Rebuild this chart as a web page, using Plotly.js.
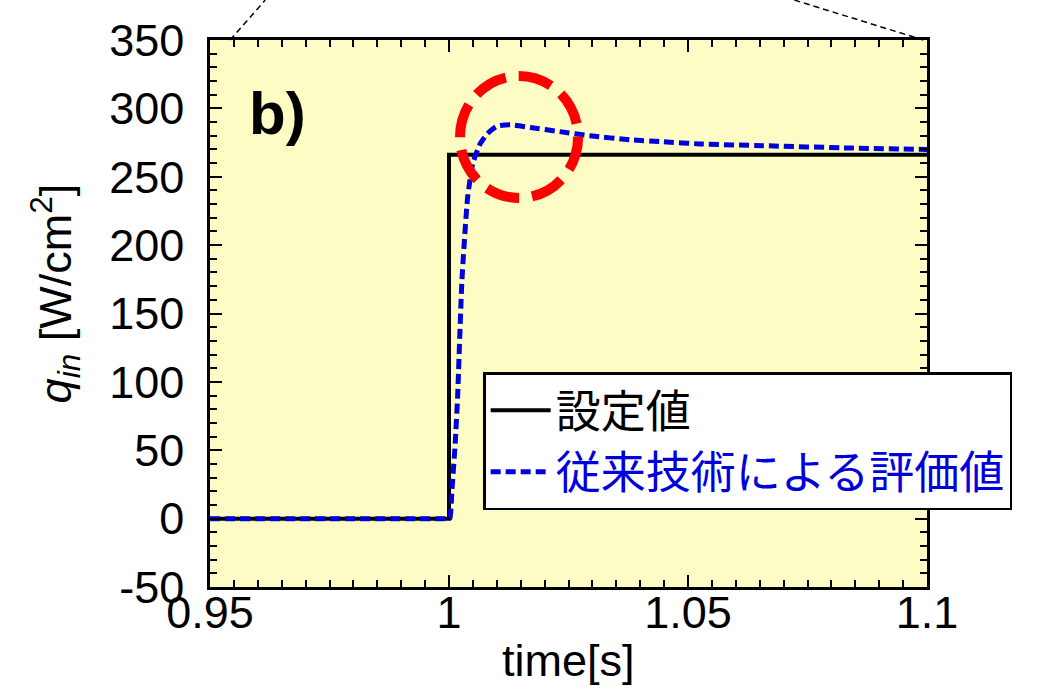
<!DOCTYPE html>
<html><head><meta charset="utf-8">
<script src="https://cdn.plot.ly/plotly-3.0.1.min.js"></script>
<style>body{margin:0;padding:0;background:#fff}#chart{width:1041px;height:686px}</style>
</head><body><div id="chart"></div>
<script>
// Data
const setTime = [0.95, 1.0, 1.0, 1.1];
const setValue = [0, 0, 266, 266];
const evalTime = [0.95, 1.0, 1.0002, 1.0006, 1.0013, 1.0018, 1.0027, 1.0039, 1.0050, 1.0065, 1.0079, 1.0100, 1.0128, 1.0170, 1.0232, 1.0295, 1.0379, 1.0448, 1.0525, 1.0657, 1.0839, 1.1];
const evalValue = [0, 0, 0, 20, 55, 89, 174, 235, 260, 274, 281, 287, 288, 286, 283, 280, 277, 275.6, 274, 272.7, 271, 270];
const seriesNames = ['設定値', '従来技術による評価値'];
const yTickVals = [-50, 0, 50, 100, 150, 200, 250, 300, 350];
const yTickText = ['-50', '0', '50', '100', '150', '200', '250', '300', '350'];
const xTickVals = [0.95, 1.0, 1.05, 1.1];
const xTickText = ['0.95', '1', '1.05', '1.1'];
const circleX = [1.0023, 1.027];
const circleY = [234.5, 323.7];
const yTitle = '<i>q</i><sub><i>in</i></sub> [W/cm<sup>2</sup>]';
const xTitle = 'time[s]';
const panelLabel = 'b)';

const font = 'Liberation Sans, Arial, sans-serif';
const traces = [
  {x: setTime, y: setValue, mode: 'lines', name: seriesNames[0],
   line: {color: '#000000', width: 4}},
  {x: evalTime, y: evalValue, mode: 'lines', name: '<span style="color:#0000dd">' + seriesNames[1] + '</span>',
   line: {color: '#0000dd', width: 5, dash: '10px,5px', shape: 'spline', smoothing: 0.5}}
];
const axisCommon = {
  showline: true, linecolor: '#000', linewidth: 2.5, mirror: 'ticks',
  ticks: 'inside', ticklen: 12, tickwidth: 2, tickcolor: '#000',
  showgrid: false, zeroline: false,
  tickfont: {family: font, size: 45, color: '#000'},
  tickmode: 'array'
};
const layout = {
  width: 1041, height: 686,
  margin: {l: 210, r: 114, t: 40, b: 99},
  paper_bgcolor: '#ffffff', plot_bgcolor: '#fcfcc4',
  showlegend: true,
  legend: {x: 0.381, y: 0.393, xanchor: 'left', yanchor: 'top',
    bgcolor: '#ffffff', bordercolor: '#000', borderwidth: 2.5,
    font: {family: 'Noto Sans CJK JP, sans-serif', size: 45, color: '#000'},
    itemwidth: 60, tracegroupgap: 0},
  xaxis: Object.assign({}, axisCommon, {
    range: [0.95, 1.1], tickvals: xTickVals, ticktext: xTickText, ticklabelstandoff: -16,
    minor: {dtick: 0.005, ticks: 'inside', ticklen: 7, tickwidth: 2, tickcolor: '#000', showgrid: false}
  }),
  yaxis: Object.assign({}, axisCommon, {
    range: [-50, 350], tickvals: yTickVals, ticktext: yTickText, ticklabelstandoff: 14,
    minor: {dtick: 10, ticks: 'inside', ticklen: 7, tickwidth: 2, tickcolor: '#000', showgrid: false}
  }),
  shapes: [
    {type: 'circle', xref: 'x', yref: 'y', x0: circleX[0], x1: circleX[1], y0: circleY[0], y1: circleY[1],
     line: {color: '#ff0000', width: 10, dash: '34px,13px'}},
    {type: 'line', xref: 'paper', yref: 'paper', x0: 0.028, y0: 1.0, x1: 0.077, y1: 1.073,
     line: {color: '#000', width: 1.5, dash: '6px,4px'}},
    {type: 'line', xref: 'paper', yref: 'paper', x0: 0.815, y0: 1.073, x1: 0.995, y1: 1.0,
     line: {color: '#000', width: 1.5, dash: '6px,4px'}}
  ],
  annotations: [
    {text: '<b>' + panelLabel + '</b>', xref: 'paper', yref: 'paper', x: 0.052, y: 0.865, xanchor: 'left', yanchor: 'middle',
     showarrow: false, font: {family: font, size: 60, color: '#000'}},
    {text: yTitle, xref: 'paper', yref: 'paper', x: -0.216, y: 0.537, xanchor: 'center', yanchor: 'middle',
     textangle: -90, showarrow: false, font: {family: font, size: 45, color: '#000'}},
    {text: xTitle, xref: 'paper', yref: 'paper', x: 0.5, y: -0.134, xanchor: 'center', yanchor: 'middle',
     showarrow: false, font: {family: font, size: 45, color: '#000'}}
  ]
};
Plotly.newPlot('chart', traces, layout, {displayModeBar: false});
</script></body></html>
